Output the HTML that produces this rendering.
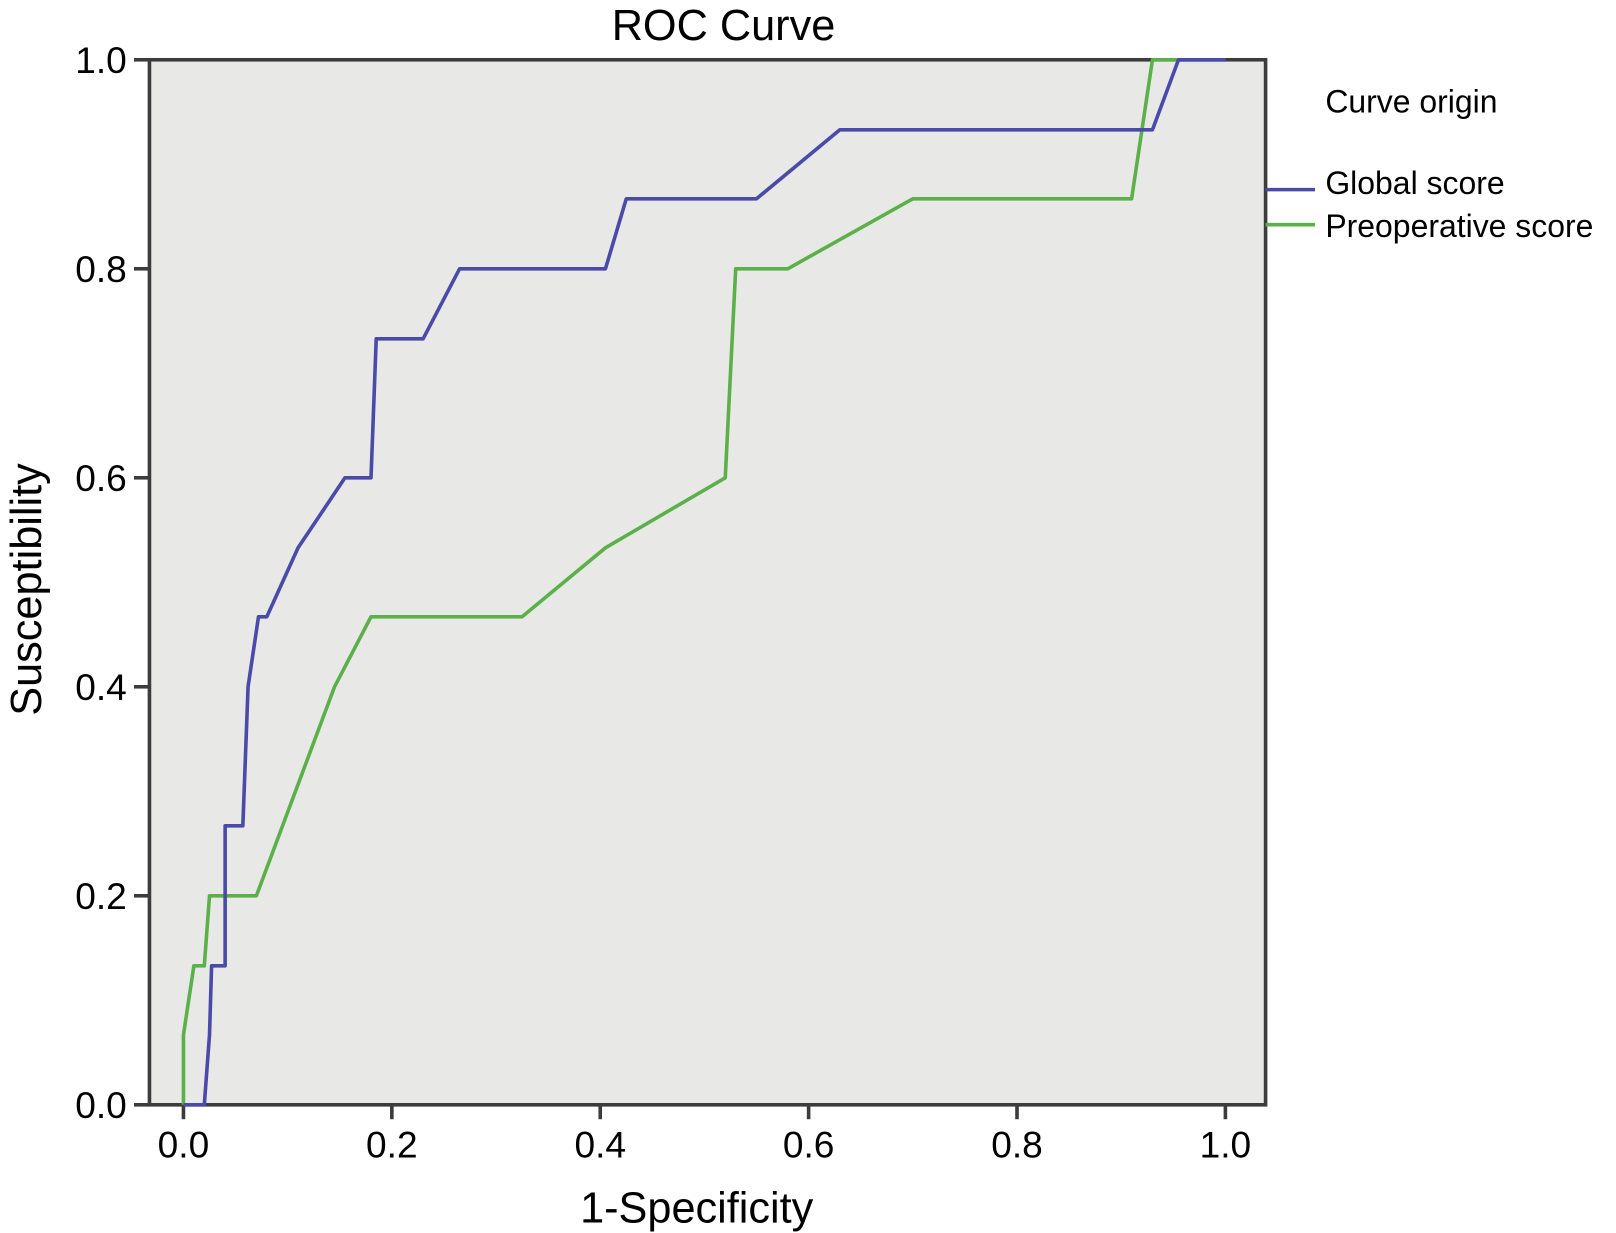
<!DOCTYPE html>
<html><head><meta charset="utf-8"><style>
html,body{margin:0;padding:0;background:#fff;}
svg{display:block;font-family:"Liberation Sans",sans-serif;}
</style></head><body>
<svg id="chart" width="1616" height="1233" viewBox="0 0 1568 1196.4" xmlns="http://www.w3.org/2000/svg">
<rect width="1568" height="1196.4" fill="#fff"/>
<text x="702" y="39" font-size="42" text-anchor="middle" fill="#000">ROC Curve</text>
<rect x="145" y="58" width="1083" height="1014" fill="#e8e8e7" stroke="#3c3c3c" stroke-width="3.5"/>
<g id="ticks"></g>
<g id="series"></g>
<text x="676" y="1186" font-size="42" text-anchor="middle" fill="#000">1-Specificity</text>
<text transform="translate(40,572) rotate(-90)" font-size="42" text-anchor="middle" fill="#000">Susceptibility</text>
<text x="1286" y="109" font-size="31" fill="#000">Curve origin</text>
<line x1="1228" y1="184" x2="1276" y2="184" stroke="#4a4aa8" stroke-width="3.5"/>
<text x="1286" y="188" font-size="31" fill="#000">Global score</text>
<line x1="1228" y1="218" x2="1276" y2="218" stroke="#5cb04a" stroke-width="3.5"/>
<text x="1286" y="230" font-size="31" fill="#000">Preoperative score</text>
</svg>
<script>
const xTicks = [0, 0.2, 0.4, 0.6, 0.8, 1.0];
const yTicks = [0, 0.2, 0.4, 0.6, 0.8, 1.0];
const globalX = [0,0.02,0.025,0.027,0.04,0.04,0.057,0.062,0.072,0.08,0.11,0.155,0.18,0.185,0.23,0.265,0.405,0.425,0.55,0.63,0.93,0.955,1];
const globalY = [0,0,0.067,0.133,0.133,0.267,0.267,0.4,0.467,0.467,0.533,0.6,0.6,0.733,0.733,0.8,0.8,0.867,0.867,0.933,0.933,1,1];
const preopX = [0,0,0.01,0.02,0.025,0.07,0.145,0.18,0.325,0.405,0.52,0.53,0.58,0.7,0.91,0.93,1];
const preopY = [0,0.067,0.133,0.133,0.2,0.2,0.4,0.467,0.467,0.533,0.6,0.8,0.8,0.867,0.867,1,1];

const NS = "http://www.w3.org/2000/svg";
const sx = v => 178 + v * 1011;
const sy = v => 1072 - v * 1014;
const tg = document.getElementById('ticks');
const sg = document.getElementById('series');

xTicks.forEach(t => {
  const l = document.createElementNS(NS, 'line');
  l.setAttribute('x1', sx(t)); l.setAttribute('x2', sx(t));
  l.setAttribute('y1', 1072); l.setAttribute('y2', 1086);
  l.setAttribute('stroke', '#3c3c3c'); l.setAttribute('stroke-width', 3.5);
  
  
  tg.appendChild(l);
  const tx = document.createElementNS(NS, 'text');
  tx.setAttribute('x', sx(t)); tx.setAttribute('y', 1123);
  tx.setAttribute('font-size', 36); tx.setAttribute('text-anchor', 'middle');
  tx.textContent = t.toFixed(1);
  
  
  tg.appendChild(tx);
});
yTicks.forEach(t => {
  const l = document.createElementNS(NS, 'line');
  l.setAttribute('x1', 130); l.setAttribute('x2', 145);
  l.setAttribute('y1', sy(t)); l.setAttribute('y2', sy(t));
  l.setAttribute('stroke', '#3c3c3c'); l.setAttribute('stroke-width', 3.5);
  
  
  tg.appendChild(l);
  const tx = document.createElementNS(NS, 'text');
  tx.setAttribute('x', 123); tx.setAttribute('y', sy(t) + 13);
  tx.setAttribute('font-size', 36); tx.setAttribute('text-anchor', 'end');
  tx.textContent = t.toFixed(1);
  
  
  tg.appendChild(tx);
});

function drawLine(xs, ys, color, name) {
  const p = document.createElementNS(NS, 'polyline');
  p.setAttribute('points', xs.map((x, i) => sx(x) + ',' + sy(ys[i])).join(' '));
  p.setAttribute('fill', 'none'); p.setAttribute('stroke', color);
  p.setAttribute('stroke-width', 3.5); p.setAttribute('stroke-linejoin', 'round');
  
  
  sg.appendChild(p);
}
drawLine(preopX, preopY, '#5cb04a', 'preoperative-score-line');
drawLine(globalX, globalY, '#4a4aa8', 'global-score-line');
</script>
</body></html>
